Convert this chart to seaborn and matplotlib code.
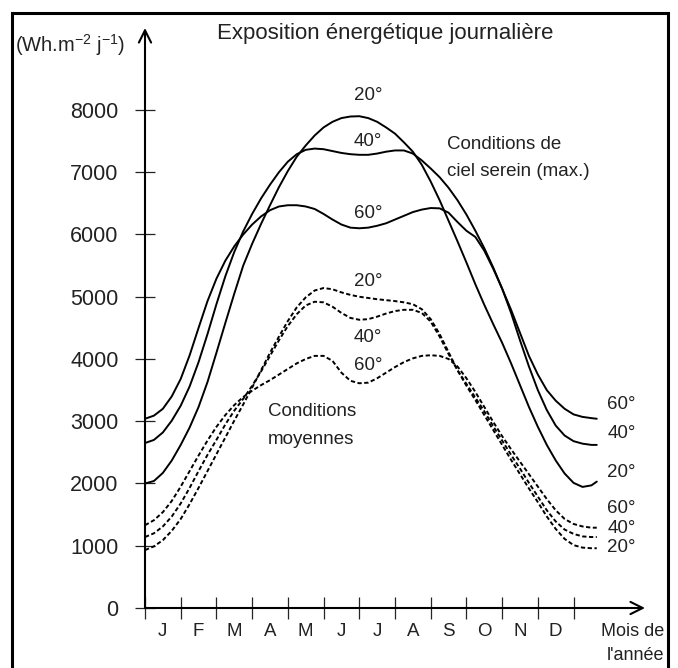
import matplotlib
matplotlib.use("Agg")
import matplotlib.pyplot as plt
from matplotlib.patches import Rectangle
import seaborn as sns

months = ["J", "F", "M", "A", "M", "J", "J", "A", "S", "O", "N", "D"]
y_ticks = [0, 1000, 2000, 3000, 4000, 5000, 6000, 7000, 8000]

# position along the year, in months from 1 January (read every quarter month)
month_pos = [i * 0.25 for i in range(51)] + [12.65]

# ciel serein (max.)
clear20 = [2000, 2040, 2170, 2370, 2620, 2900, 3230, 3630, 4100, 4580, 5050, 5500, 5850, 6170, 6470, 6760,
           7020, 7250, 7430, 7590, 7720, 7810, 7870, 7895, 7900, 7870, 7810, 7720, 7620, 7480, 7330, 7120,
           6850, 6550, 6220, 5890, 5550, 5200, 4870, 4560, 4260, 3930, 3580, 3230, 2910, 2620, 2370, 2160,
           2010, 1945, 1970, 2030]
clear40 = [2650, 2700, 2820, 3010, 3250, 3560, 3950, 4400, 4880, 5330, 5720, 6050, 6330, 6580, 6800, 7000,
           7170, 7290, 7360, 7380, 7370, 7340, 7310, 7290, 7280, 7280, 7300, 7330, 7350, 7350, 7300, 7190,
           7060, 6920, 6750, 6550, 6320, 6060, 5780, 5470, 5130, 4740, 4300, 3880, 3500, 3180, 2930, 2770,
           2680, 2640, 2620, 2620]
clear60 = [3040, 3090, 3200, 3400, 3680, 4060, 4500, 4930, 5290, 5580, 5810, 6000, 6160, 6290, 6390, 6450,
           6470, 6470, 6450, 6410, 6330, 6240, 6160, 6110, 6100, 6110, 6140, 6180, 6240, 6300, 6360, 6400,
           6425, 6420, 6350, 6200, 6060, 5960, 5740, 5450, 5130, 4790, 4420, 4050, 3750, 3500, 3330, 3200,
           3110, 3070, 3050, 3040]

# conditions moyennes
avg20 = [930, 990, 1090, 1240, 1430, 1670, 1930, 2200, 2470, 2740, 3010, 3270, 3540, 3820, 4100, 4360,
         4610, 4830, 4990, 5100, 5140, 5120, 5070, 5030, 5000, 4980, 4960, 4945, 4930, 4910, 4880, 4800,
         4640, 4400, 4110, 3820, 3570, 3340, 3100, 2860, 2620, 2380, 2150, 1920, 1700, 1470, 1270, 1110,
         1010, 970, 960, 960]
avg40 = [1140, 1200, 1310, 1470, 1680, 1930, 2200, 2460, 2700, 2950, 3170, 3360, 3570, 3800, 4050, 4300,
         4530, 4720, 4860, 4920, 4910, 4840, 4740, 4660, 4630, 4640, 4680, 4730, 4770, 4790, 4790, 4740,
         4600, 4360, 4080, 3820, 3600, 3380, 3160, 2920, 2690, 2460, 2240, 2010, 1790, 1570, 1390, 1260,
         1190, 1150, 1140, 1140]
avg60 = [1330, 1410, 1540, 1720, 1950, 2200, 2450, 2690, 2910, 3100, 3260, 3390, 3490, 3580, 3660, 3750,
         3840, 3930, 4000, 4050, 4050, 3970, 3780, 3650, 3610, 3620, 3690, 3780, 3870, 3950, 4010, 4050,
         4060, 4050, 4000, 3880, 3690, 3470, 3230, 2990, 2760, 2550, 2350, 2150, 1950, 1750, 1570, 1430,
         1350, 1310, 1290, 1290]

sns.set_theme(style="white")
plt.rcParams["font.family"] = ["Liberation Sans", "DejaVu Sans"]
plt.rcParams["mathtext.fontset"] = "custom"
plt.rcParams["mathtext.rm"] = "Liberation Sans"

W, H = 678, 668
fig = plt.figure(figsize=(W / 100, H / 100), dpi=100)
ax = fig.add_axes([145 / W, 60 / H, 500 / W, 580 / H])

dash = (0, (2.2, 1.3))
for vals, ls in [(clear20, "-"), (clear40, "-"), (clear60, "-"),
                 (avg20, dash), (avg40, dash), (avg60, dash)]:
    sns.lineplot(x=month_pos, y=vals, ax=ax, color="black", lw=1.4, linestyle=ls, sort=False,
                 solid_joinstyle="round")

ax.set_xlim(0, 14.0)
ax.set_ylim(0, 9317)
for s in ax.spines.values():
    s.set_visible(False)

# axes drawn as arrows
arrow = dict(arrowstyle="->", lw=1.5, color="black", mutation_scale=22, shrinkA=0, shrinkB=0)
ax.annotate("", xy=(14.0, 0), xytext=(0, 0), arrowprops=arrow, annotation_clip=False)
ax.annotate("", xy=(0, 9317), xytext=(0, 0), arrowprops=arrow, annotation_clip=False)

ax.set_yticks(y_ticks)
ax.set_yticklabels([str(t) for t in y_ticks])
ax.set_xticks(range(13))
ax.set_xticklabels([""] * 13)
ax.set_xticks([i + 0.5 for i in range(12)], minor=True)
ax.set_xticklabels(months, minor=True)
ax.tick_params(axis="y", left=True, direction="inout", length=14, width=0.9, pad=12,
               labelsize=15.5, colors="#222222")
ax.tick_params(axis="x", which="major", bottom=True, direction="inout", length=16, width=0.9)
ax.tick_params(axis="x", which="minor", bottom=True, length=0, pad=11, labelsize=13.5, labelcolor="#222222")
ax.set_xlabel("")
ax.set_ylabel("")

fs = 13.5
def mk(m, v, s, ha="center"):
    ax.text(m, v, s, fontsize=fs, color="#222222", va="center", ha=ha, clip_on=False)

# curve labels
for v, s in zip([8240, 7486, 6345, 5237, 4353, 3888], ["20°", "40°", "60°", "20°", "40°", "60°"]):
    mk(6.25, v, s)
mk(8.46, 7440, "Conditions de", ha="left")
mk(8.46, 7004, "ciel serein (max.)", ha="left")
mk(3.45, 3149, "Conditions", ha="left")
mk(3.45, 2699, "moyennes", ha="left")
for v, s in zip([3261, 2811, 2169, 1606, 1285, 964], ["60°", "40°", "20°", "60°", "40°", "20°"]):
    mk(12.94, v, s, ha="left")

fig.text(385 / W, 1 - 33 / H, "Exposition énergétique journalière", fontsize=16, ha="center",
         va="center", color="#222222")
fig.text(15 / W, 1 - 45 / H, r"(Wh.m$^{\mathregular{-2}}$ j$^{\mathregular{-1}}$)", fontsize=14.5,
         ha="left", va="center", color="#222222")
fig.text(601 / W, 1 - 632 / H, "Mois de", fontsize=13, ha="left", va="center", color="#222222")
fig.text(607 / W, 1 - 655 / H, "l'année", fontsize=13, ha="left", va="center", color="#222222")

# frame around the picture
fig.patches.append(Rectangle((12 / W, -0.05), (668 - 12) / W, 1.05 - 13 / H, transform=fig.transFigure,
                             fill=False, lw=2.2, edgecolor="black"))

fig.savefig("out.png", dpi=100)
